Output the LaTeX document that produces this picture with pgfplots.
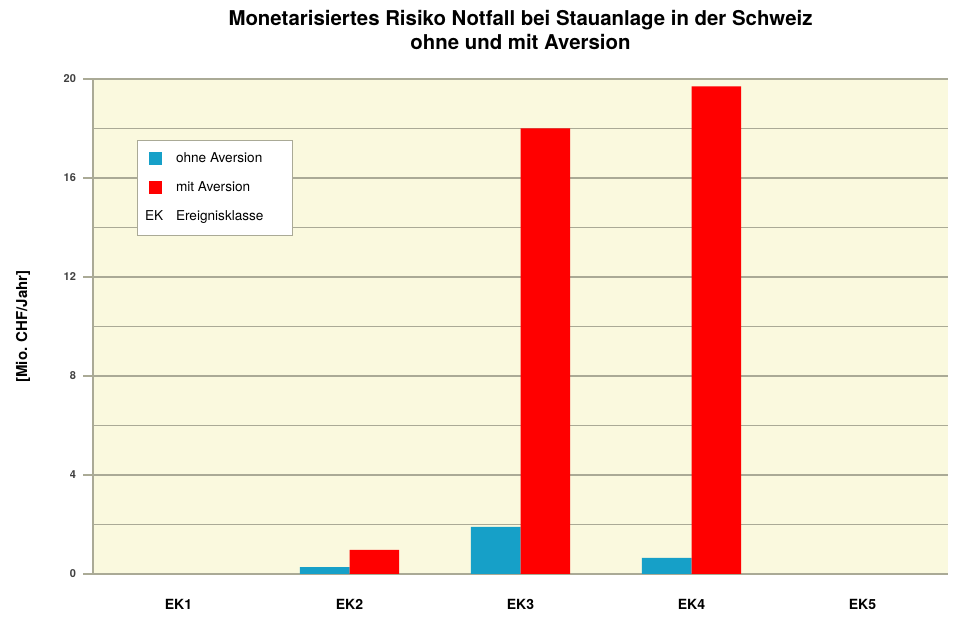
\documentclass[border=0pt]{standalone}
\usepackage{fontspec}
\setmainfont{TeX Gyre Heros}
\usepackage{pgfplots}
\pgfplotsset{compat=1.18}

\definecolor{ohne}{RGB}{22,160,200}
\definecolor{mit}{RGB}{255,0,0}
\definecolor{bgyel}{RGB}{250,249,222}
\definecolor{gridc}{RGB}{170,170,150}

\begin{document}
\begin{tikzpicture}
\begin{axis}[
  name=ax,
  scale only axis,
  width=427.5pt, height=247.5pt,
  ybar=0pt, bar width=0.29,
  xmin=-0.5, xmax=4.5,
  ymin=0, ymax=20,
  xtick={0,1,2,3,4},
  xticklabels={EK1,EK2,EK3,EK4,EK5},
  x tick label style={font=\bfseries\fontsize{7}{8}\selectfont, yshift=-4pt},
  ytick={0,4,8,12,16,20},
  minor ytick={2,6,10,14,18},
  y tick label style={font=\bfseries\fontsize{5.5}{6}\selectfont, color=black!75},
  /pgf/number format/assume math mode=true,
  xtick style={draw=none},
  ytick style={draw=gridc, line width=0.6pt},
  major tick length=5pt, minor tick length=0pt,
  tick align=outside,
  ymajorgrids, yminorgrids,
  major grid style={draw=gridc, line width=0.6pt},
  minor grid style={draw=gridc, line width=0.6pt},
  axis line style={draw=gridc, line width=0.6pt},
  axis x line*=bottom, axis y line*=left,
  axis background/.style={fill=bgyel},
  title={Monetarisiertes Risiko Notfall bei Stauanlage in der Schweiz\\ohne und mit Aversion},
  title style={font=\bfseries\fontsize{10.2}{12}\selectfont, align=center, yshift=5pt},
  legend style={at={(0.051,0.877)}, anchor=north west, draw=gridc, fill=white,
    font=\fontsize{6.8}{8}\selectfont, row sep=4pt, inner sep=4pt,
    cells={anchor=west}},
  legend image code/.code={\fill[#1] (1.5pt,-3.2pt) rectangle (8pt,3.3pt); \path (13pt,0pt);},
]
\addplot[fill=ohne, draw=none] coordinates {(1,0.28) (2,1.9) (3,0.65)};
\addplot[fill=mit, draw=none] coordinates {(1,0.97) (2,18.0) (3,19.7)};
\addlegendimage{legend image code/.code={\node[inner sep=0pt, anchor=west, font=\fontsize{6.8}{8}\selectfont] at (-0.5pt,0pt) {EK}; \path (13pt,0pt);}}
\legend{ohne Aversion\hspace*{9pt}\mbox{}, mit Aversion, Ereignisklasse}
\end{axis}
\node[rotate=90, font=\bfseries\fontsize{7.5}{8}\selectfont] at ([xshift=-35pt]ax.west) {[Mio. CHF/Jahr]};
\pgfresetboundingbox
\path[use as bounding box] ([xshift=-46.5pt,yshift=-22.5pt]ax.south west) rectangle ([xshift=4pt,yshift=39.5pt]ax.north east);
\end{tikzpicture}
\end{document}
